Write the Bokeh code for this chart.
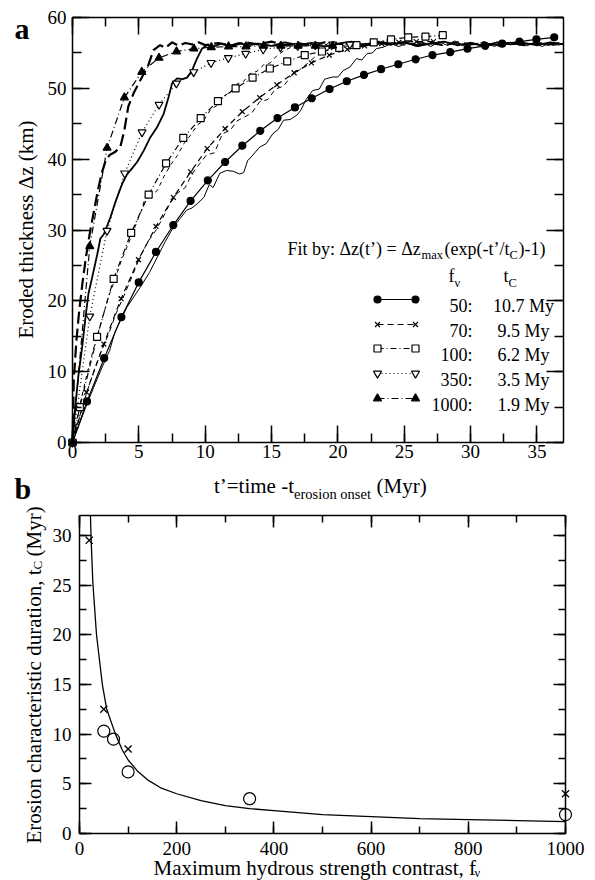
import math
from bokeh.plotting import figure
from bokeh.models import Range1d, LinearAxis, SingleIntervalTicker, Label, CustomJSTickFormatter
from bokeh.layouts import column
from bokeh.embed import file_html
from bokeh.resources import INLINE

SERIF = "Liberation Serif"

# ---------------- data: panel a ----------------
fv_labels = ["50", "70", "100", "350", "1000"]
tc_labels = ["10.7", "9.5", "6.2", "3.5", "1.9"]

# fitted curves (marker points)
fit50_t = [0, 1.09, 2.39, 3.69, 4.99, 6.29, 7.6, 8.9, 10.2, 11.5, 12.8, 14.15, 15.45, 16.76, 18.03,
           19.37, 20.67, 21.97, 23.25, 24.55, 25.86, 27.13, 28.47, 29.77, 31.1, 32.38, 33.69, 34.96, 36.3]
fit50_z = [0, 5.8, 11.9, 17.7, 22.6, 26.9, 30.7, 34.1, 37.0, 39.6, 41.9, 44.0, 45.8, 47.3, 48.6,
           49.9, 51.0, 51.9, 52.7, 53.4, 54.1, 54.7, 55.1, 55.6, 56.0, 56.3, 56.6, 56.9, 57.2]

fit70_t = [0, 1.06, 2.36, 3.66, 4.97, 6.29, 7.6, 8.9, 10.15, 11.5, 12.8, 14.1, 15.4, 16.7, 18.0,
           19.35, 20.7, 22.0, 23.3, 24.6, 25.9, 27.2]
fit70_z = [0, 7.1, 13.9, 20.3, 25.8, 30.5, 34.6, 38.2, 41.5, 44.3, 46.7, 48.7, 50.5, 52.2, 53.6,
           54.7, 55.5, 56.0, 56.3, 56.5, 56.6, 56.6]

fit100_t = [0, 0.55, 1.85, 3.1, 4.42, 5.74, 7.05, 8.35, 9.66, 10.96, 12.29, 13.57, 14.87, 16.18,
            17.5, 18.8, 20.1, 21.4, 22.7, 24.0, 25.3, 26.6, 27.9]
fit100_z = [0, 5.0, 14.9, 23.1, 29.6, 35.0, 39.4, 43.0, 45.8, 48.2, 50.0, 51.5, 52.8, 53.8,
            54.7, 55.2, 55.7, 56.1, 56.5, 56.9, 57.2, 57.3, 57.5]

fit350_t = [0, 1.3, 2.6, 3.93, 5.24, 6.52, 7.83, 9.13, 10.44, 11.74, 13.05, 14.37, 15.67, 16.97,
            18.3, 19.6, 20.9]
fit350_z = [0, 17.8, 29.9, 38.0, 43.8, 47.7, 50.7, 52.3, 53.6, 54.3, 54.9, 55.5, 55.8, 56.0,
            56.1, 56.2, 56.2]

fit1000_t = [0, 1.3, 2.61, 3.91, 5.22, 6.52, 7.84, 9.15, 10.46, 11.76, 13.07, 14.4, 15.7, 17.0,
             18.3, 19.6]
fit1000_z = [0, 27.7, 41.6, 48.7, 52.3, 54.3, 55.2, 55.6, 55.8, 55.9, 55.9, 56.0, 56.0, 56.0,
             56.0, 56.0]

# raw model curves
raw50_t = [0, 0.5, 1.0, 1.6, 2.2, 2.8, 3.2, 4.1, 5.1, 5.8, 6.4, 7.0, 7.6, 8.1, 8.6, 9.0, 9.4, 9.9,
           10.3, 10.6, 11.1, 11.6, 12.1, 12.6, 12.9, 13.2, 13.6, 14.1, 14.6, 15.1, 15.5, 15.9, 16.4,
           16.9, 17.2, 17.6, 18.1, 18.6, 19.0, 19.6, 20.0, 20.4, 20.9, 21.4, 21.8, 22.2, 22.6, 22.9,
           23.4, 24.0, 24.6, 25.2, 25.8, 26.4, 27.0, 27.6, 28.2, 28.8, 29.4, 30.0, 30.6, 31.2, 31.8,
           32.4, 33.0, 33.6, 34.2, 34.8, 35.4, 36.0, 36.6, 37.0]
raw50_z = [0, 2.5, 5.0, 7.8, 10.5, 13.0, 15.6, 19.1, 21.9, 24.0, 26.2, 28.4, 30.4, 31.6, 32.8, 33.1,
           33.7, 34.6, 36.4, 36.0, 38.0, 38.4, 38.3, 37.9, 38.1, 39.8, 40.6, 41.7, 42.2, 43.6, 44.2,
           45.5, 45.6, 46.2, 46.9, 48.4, 49.7, 49.9, 51.3, 51.6, 51.6, 52.5, 53.0, 54.2, 54.0, 54.9,
           55.0, 55.6, 55.8, 56.3, 55.9, 56.4, 56.0, 56.5, 55.9, 56.6, 56.1, 56.7, 56.0, 56.5, 56.1,
           56.4, 55.9, 56.5, 56.2, 56.7, 56.0, 56.4, 55.9, 56.5, 56.1, 56.3]

raw70_t = [0, 0.4, 0.9, 1.5, 2.1, 2.7, 3.3, 3.9, 4.5, 5.1, 5.7, 6.3, 6.8, 7.3, 7.9, 8.5, 9.0, 9.6,
           10.1, 10.7, 11.3, 11.9, 12.4, 13.0, 13.5, 14.1, 14.7, 15.3, 15.9, 16.5, 17.1, 17.7, 18.3,
           18.9, 19.5, 20.1, 20.8, 21.5, 22.2, 23, 24, 25, 26, 27, 28, 29, 30, 31, 32, 33, 34, 35,
           36, 37]
raw70_z = [0, 2.8, 6.0, 9.5, 12.6, 15.2, 18.3, 20.8, 23.5, 26.3, 28.4, 30.0, 31.7, 33.6, 35.2, 36.0,
           37.9, 39.4, 40.6, 40.9, 43.6, 44.1, 45.4, 46.0, 46.5, 48.1, 48.4, 49.9, 50.3, 51.8, 52.6,
           53.5, 54.5, 55.0, 55.8, 56.1, 55.9, 56.4, 56.0, 56.5, 56.1, 56.6, 56.2, 56.5, 56.0, 56.4,
           56.1, 56.6, 56.0, 56.5, 56.2, 56.4, 56.0, 56.3]

raw100_t = [0, 0.3, 0.7, 1.2, 1.7, 2.2, 2.7, 3.2, 3.7, 4.2, 4.7, 5.2, 5.6, 6.0, 6.4, 6.9, 7.4, 7.9,
            8.4, 8.9, 9.4, 9.9, 10.4, 10.9, 11.4, 11.9, 12.4, 12.9, 13.4, 13.9, 14.4, 14.9, 15.4,
            16.0, 16.6, 17.2, 17.8, 18.4, 19.0, 19.6, 20.2, 21, 22, 23, 24, 25, 26, 27, 28, 29, 30,
            31, 32, 33, 34, 35, 36, 37]
raw100_z = [0, 3.0, 6.5, 10.5, 14.0, 17.2, 20.5, 23.0, 25.8, 28.0, 30.4, 32.8, 35.4, 35.0, 35.6,
            37.6, 39.2, 40.5, 42.2, 43.4, 44.8, 45.5, 47.0, 47.6, 48.9, 49.5, 50.6, 51.0, 52.1, 52.4,
            53.3, 53.6, 54.6, 55.4, 55.9, 56.3, 56.0, 56.5, 56.1, 56.6, 56.2, 56.5, 56.0, 56.4, 56.6,
            56.1, 56.5, 56.2, 56.6, 56.0, 56.4, 56.1, 56.5, 56.2, 56.4, 56.0, 56.5, 56.2]

raw350_t = [0, 0.2, 0.45, 0.73, 0.98, 1.2, 1.48, 1.86, 2.1, 2.36, 2.86, 3.24, 3.74, 4.12, 4.49, 4.87,
            5.37, 5.87, 6.37, 6.87, 7.25, 7.5, 7.88, 8.3, 8.63, 9.0, 9.38, 9.76, 10.13, 10.6, 11.2,
            11.8, 12.5, 13.2, 14, 15, 16, 17, 18, 19, 20, 21, 22, 23, 24, 25, 26, 27, 28, 29, 30, 31,
            32, 33, 34, 35, 36, 37]
raw350_z = [0, 5.0, 9.5, 13.5, 17.7, 21.0, 23.3, 26.5, 28.8, 29.4, 31.8, 34.0, 36.5, 37.9, 38.7,
            39.6, 41.2, 43.1, 44.5, 46.4, 48.8, 50.7, 51.4, 51.3, 51.5, 52.5, 54.2, 55.6, 56.1, 55.9,
            56.3, 56.0, 56.4, 56.1, 56.3, 56.0, 56.5, 56.1, 56.4, 55.9, 56.3, 56.6, 56.0, 56.4, 56.2,
            56.5, 56.0, 56.3, 56.6, 56.1, 56.4, 56.0, 56.5, 56.2, 56.4, 56.1, 56.5, 56.2]

raw1000_t = [0, 0.1, 0.3, 0.5, 0.75, 1.0, 1.3, 1.6, 1.9, 2.2, 2.5, 2.8, 3.2, 3.6, 3.9, 4.2, 4.6,
             5.1, 5.7, 6.1, 6.6, 7.0, 7.5, 8.0, 8.5, 9.0, 9.5, 10, 11, 12, 13, 14, 15, 16, 17, 18,
             19, 20, 21, 22, 23, 24, 25, 26, 27, 28, 29, 30, 31, 32, 33, 34, 35, 36, 37]
raw1000_z = [0, 9.0, 14.5, 18.5, 22.5, 26.0, 29.5, 32.5, 35.5, 38.0, 39.8, 40.6, 41.0, 41.7, 44.0,
             47.4, 49.3, 51.1, 53.2, 55.4, 56.1, 55.7, 56.5, 56.0, 56.4, 56.2, 56.5, 56.1, 56.4,
             56.0, 56.5, 56.2, 56.6, 56.1, 56.4, 56.0, 56.5, 56.2, 56.4, 56.1, 56.6, 56.2, 56.5,
             56.0, 56.4, 56.1, 56.5, 56.2, 56.4, 56.0, 56.5, 56.1, 56.4, 56.2, 56.5]

# ---------------- data: panel b ----------------
circ_fv = [50, 70, 100, 350, 1000]
circ_tc = [10.3, 9.5, 6.2, 3.5, 1.9]
cross_fv = [20, 50, 100, 1000]
cross_tc = [29.5, 12.5, 8.5, 4.0]
curve_fv = [22.5, 24, 27.5, 35, 47, 56, 74, 88, 100, 119, 140, 167, 200, 250, 300, 350, 400, 500,
            600, 700, 800, 900, 1000]
curve_tc = [32.0, 29.5, 25.2, 20.0, 15.0, 12.5, 10.0, 8.4, 7.4, 6.3, 5.4, 4.6, 4.0, 3.3, 2.8, 2.5,
            2.3, 1.9, 1.7, 1.5, 1.4, 1.3, 1.2]

# ---------------- layout (page pixels) ----------------
PAGE_L, PAGE_R = 0, 595
A_L, A_R, A_T, A_B = 72, 563, 17, 442
A_FIG_T, A_FIG_B = 0, 467
B_L, B_R, B_T, B_B = 79, 565, 515, 833
B_FIG_T, B_FIG_B = 467, 880
A_XMAX, A_YMAX = 37.0, 60.0
B_XMAX, B_YMAX = 1000.0, 32.0


def to_a(px, py):
    return ((px - A_L) * A_XMAX / (A_R - A_L), (A_B - py) * A_YMAX / (A_B - A_T))


def to_b(px, py):
    return ((px - B_L) * B_XMAX / (B_R - B_L), (B_B - py) * B_YMAX / (B_B - B_T))


def make_fig(conv, fig_top, fig_bottom):
    x0, y0 = conv(PAGE_L, fig_bottom)
    x1, y1 = conv(PAGE_R, fig_top)
    f = figure(frame_width=PAGE_R - PAGE_L, frame_height=fig_bottom - fig_top,
               min_border=0, min_border_left=0, min_border_right=0,
               min_border_top=0, min_border_bottom=0,
               x_range=Range1d(x0, x1), y_range=Range1d(y0, y1),
               x_axis_location=None, y_axis_location=None,
               output_backend="svg", toolbar_location=None)
    f.grid.visible = False
    f.outline_line_color = None
    f.background_fill_color = "white"
    f.border_fill_color = "white"
    return f


def make_axis(fig, side, loc, bounds, ticker, tin, mtin, labels=True, size="19px", standoff=4):
    ax = LinearAxis(fixed_location=loc, bounds=bounds, ticker=ticker)
    ax.major_tick_in = tin
    ax.major_tick_out = 0
    ax.minor_tick_in = mtin
    ax.minor_tick_out = 0
    ax.axis_line_color = "black"
    ax.axis_line_width = 1.5
    ax.major_tick_line_color = "black"
    ax.minor_tick_line_color = "black"
    ax.major_tick_line_width = 1.5
    ax.minor_tick_line_width = 1.5
    if labels:
        ax.major_label_text_font = SERIF
        ax.major_label_text_font_size = size
        ax.major_label_text_color = "black"
        ax.major_label_standoff = standoff
    else:
        ax.formatter = CustomJSTickFormatter(code="return ''")
        ax.major_label_text_font_size = "0px"
        ax.major_label_standoff = 0
    fig.add_layout(ax, side)
    return ax


def add_text(fig, conv, px, py, text, size, align="left", angle=0.0, bold=False):
    x, y = conv(px, py)
    fig.add_layout(Label(x=x, y=y, text=text, text_font=SERIF, text_font_size=f"{size}px",
                         text_align=align, text_baseline="alphabetic", angle=angle,
                         text_color="black", text_font_style="bold" if bold else "normal"))


# ================= panel a =================
pa = make_fig(to_a, A_FIG_T, A_FIG_B)
ax_tick_a = SingleIntervalTicker(interval=5, num_minor_ticks=2)
ay_tick_a = SingleIntervalTicker(interval=10, num_minor_ticks=2)
make_axis(pa, "below", 0, (0, A_XMAX), ax_tick_a, 17, 9, standoff=2)
make_axis(pa, "left", 0, (0, A_YMAX), ay_tick_a, 17, 9, standoff=6)
make_axis(pa, "above", A_YMAX, (0, A_XMAX), ax_tick_a, 17, 9, labels=False)
make_axis(pa, "right", A_XMAX, (0, A_YMAX), ay_tick_a, 17, 9, labels=False)

raw_sets = [
    (raw50_t, raw50_z, 1.0, "solid"),
    (raw70_t, raw70_z, 1.0, "5 4"),
    (raw100_t, raw100_z, 1.0, "4 4"),
    (raw350_t, raw350_z, 1.8, "solid"),
    (raw1000_t, raw1000_z, 2.2, "12 5"),
]
for t, z, w, d in raw_sets:
    pa.line(t, z, line_color="black", line_width=w, line_dash=d)

fit_sets = [
    (fit50_t, fit50_z, "circle", "black", "solid", 7),
    (fit70_t, fit70_z, "x", "black", "6 4", 7),
    (fit100_t, fit100_z, "square", "white", "6 3 1 3", 7),
    (fit350_t, fit350_z, "inverted_triangle", "white", "1 3", 8),
    (fit1000_t, fit1000_z, "triangle", "black", "7 3 1 3", 8),
]
for t, z, m, fc, d, s in fit_sets:
    pa.line(t, z, line_color="black", line_width=1.2, line_dash=d)
    pa.scatter(t, z, marker=m, size=s, line_color="black", fill_color=fc, line_width=1.2)

# legend block
HDR = 18
SUB = 12.5
add_text(pa, to_a, 287, 248, "Fit by: \u0394z(t\u2019) = \u0394z", HDR)
add_text(pa, to_a, 421, 254, "max", SUB)
add_text(pa, to_a, 444, 248, "(exp(-t\u2019/t", HDR)
add_text(pa, to_a, 509, 254, "C", SUB)
add_text(pa, to_a, 518, 248, ")-1)", HDR)
add_text(pa, to_a, 448, 275, "f", HDR)
add_text(pa, to_a, 454, 282, "\u03bd", SUB)
add_text(pa, to_a, 503, 275, "t", HDR)
add_text(pa, to_a, 508, 282, "C", SUB)

row_base = [305, 330, 354, 379, 404]
for i, (t, z, m, fc, d, s) in enumerate(fit_sets):
    yb = row_base[i]
    x0, y0 = to_a(377, yb - 6)
    x1, _ = to_a(415, yb - 6)
    pa.line([x0, x1], [y0, y0], line_color="black", line_width=1.2, line_dash=d)
    pa.scatter([x0, x1], [y0, y0], marker=m, size=s, line_color="black", fill_color=fc,
               line_width=1.2)
    add_text(pa, to_a, 472, yb, fv_labels[i] + ":", HDR, align="right")
    add_text(pa, to_a, 523, yb, tc_labels[i] + " My", HDR, align="center")

add_text(pa, to_a, 25, 229, "Eroded thickness \u0394z (km)", 21, align="center", angle=math.pi / 2)
add_text(pa, to_a, 14, 28, "a", 30, bold=True)

# ================= panel b =================
pb = make_fig(to_b, B_FIG_T, B_FIG_B)
bx_tick = SingleIntervalTicker(interval=200, num_minor_ticks=2)
by_tick = SingleIntervalTicker(interval=5, num_minor_ticks=2)
make_axis(pb, "below", 0, (0, B_XMAX), bx_tick, 12, 7, standoff=8)
make_axis(pb, "left", 0, (0, B_YMAX), by_tick, 12, 7, standoff=8)
make_axis(pb, "above", B_YMAX, (0, B_XMAX), bx_tick, 12, 7, labels=False)
make_axis(pb, "right", B_XMAX, (0, B_YMAX), by_tick, 12, 7, labels=False)

pb.line(curve_fv, curve_tc, line_color="black", line_width=1.3)
pb.scatter(circ_fv, circ_tc, marker="circle", size=12, line_color="black",
           fill_color=None, line_width=1.2)
pb.scatter(cross_fv, cross_tc, marker="x", size=10, line_color="black", line_width=1.3)

# panel a x-axis title and panel letter b (drawn in the lower canvas, page positions)
add_text(pb, to_b, 293.5, 485, "t\u2019=time -t", 21, align="right")
add_text(pb, to_b, 293.5, 493, "erosion onset", 14.5)
add_text(pb, to_b, 376, 485, "(Myr)", 21)
add_text(pb, to_b, 14, 488, "b", 30, bold=True)

add_text(pb, to_b, 33.5, 569, "Erosion characteristic duration, t", 21, align="right",
         angle=math.pi / 2)
add_text(pb, to_b, 36.5, 569, "C", 13, angle=math.pi / 2)
add_text(pb, to_b, 33.5, 556, "(Myr)", 21, angle=math.pi / 2)
add_text(pb, to_b, 153, 867, "Maximum hydrous strength contrast, f", 21)
add_text(pb, to_b, 474, 872, "\u03bd", 12.5)

layout = column(pa, pb, spacing=0)
open("out.html", "w").write(file_html(layout, INLINE))
